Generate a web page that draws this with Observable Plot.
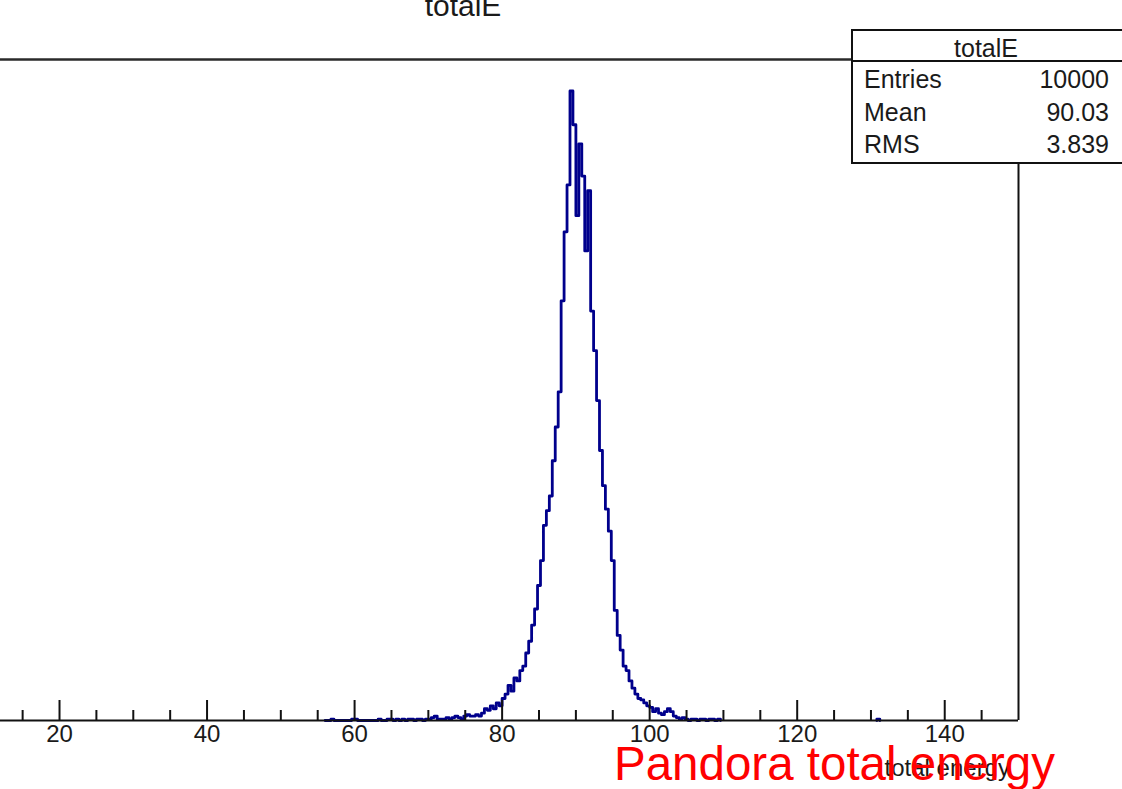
<!DOCTYPE html>
<html>
<head>
<meta charset="utf-8">
<script src="https://cdn.jsdelivr.net/npm/d3@7"></script>
<script src="https://cdn.jsdelivr.net/npm/@observablehq/plot@0.6"></script>
<style>
  html, body { margin: 0; padding: 0; background: white; overflow: hidden; }
  svg { display: block; }
</style>
</head>
<body>
<div id="chart"></div>
<script>
// ---- Data ----
const histTitle = "totalE";
const xAxisTitle = "total energy";
const annotation = "Pandora total energy";
const binStart = 56.0;
const binWidth = 0.4;
const counts = [
  0,0,1,0,0,0,0,0,0,1,
  1,0,0,0,0,0,0,0,1,0,
  0,1,1,0,1,0,1,0,1,1,
  0,1,1,0,1,1,2,3,1,1,
  1,2,1,2,3,2,1,3,4,3,
  3,4,3,5,8,7,10,8,12,10,
  15,18,24,20,29,27,34,37,46,54,
  65,76,92,109,133,143,153,177,200,224,
  286,333,365,429,406,344,393,371,320,361,
  279,252,218,184,160,144,129,109,75,58,
  48,37,34,27,22,18,15,14,12,10,
  9,6,8,5,4,6,8,6,3,2,
  1,2,1,0,1,1,0,1,1,0,
  1,1,0,1
];
const extraBinStarts = [130.8];
const extraCounts = [1];
const xDomain = [12, 150];
const majorTicks = [20, 40, 60, 80, 100, 120, 140];
const majorTickLabels = ["20", "40", "60", "80", "100", "120", "140"];
const minorTicks = [15, 25, 30, 35, 45, 50, 55, 65, 70, 75, 85, 90, 95, 105, 110, 115, 125, 130, 135, 145];
const statsLabels = ["Entries", "Mean", "RMS"];
const statsValues = ["10000", "90.03", "3.839"];

// ---- Build step outline ----
const pts = [];
function addHist(start, arr, series) {
  pts.push({s: series, x: start, y: 0});
  arr.forEach((c, i) => pts.push({s: series, x: +(start + i * binWidth).toFixed(3), y: c}));
  pts.push({s: series, x: +(start + arr.length * binWidth).toFixed(3), y: 0});
}
addHist(binStart, counts, "main");
extraBinStarts.forEach((b, k) => addHist(b, [extraCounts[k]], "extra" + k));

const yMax = d3.max(counts) * 1.05;
const FONT = "'Liberation Sans', Arial, Helvetica, sans-serif";

const chart = Plot.plot({
  width: 1122,
  height: 789,
  marginLeft: 0,
  marginRight: 104,
  marginTop: 59,
  marginBottom: 69,
  x: {domain: xDomain, axis: null},
  y: {domain: [0, yMax], axis: null},
  style: {background: "white", fontFamily: FONT, overflow: "visible"},
  marks: [
    Plot.line(pts, {x: "x", y: "y", z: "s", curve: "step-after", stroke: "#00008c", strokeWidth: 2.8}),
    Plot.ruleY([yMax], {stroke: "#2a2a2a", strokeWidth: 2.6}),
    Plot.ruleX([xDomain[1]], {stroke: "#111", strokeWidth: 2}),
    Plot.ruleY([0], {stroke: "#111", strokeWidth: 2}),
    Plot.ruleX(majorTicks, {x: d => d, y1: () => 0, y2: () => 0, insetTop: -20, stroke: "#111", strokeWidth: 2}),
    Plot.ruleX(minorTicks, {x: d => d, y1: () => 0, y2: () => 0, insetTop: -10, stroke: "#111", strokeWidth: 2}),
    Plot.text(majorTicks, {x: d => d, frameAnchor: "bottom", dy: 21, text: (d, i) => majorTickLabels[i], fontSize: 24, fill: "#1a1a1a"})
  ]
});

const svg = d3.select(chart);

function addText(parent, x, y, anchor, size, fill, txt) {
  return parent.append("text")
    .attr("x", x).attr("y", y)
    .attr("text-anchor", anchor)
    .style("text-anchor", anchor)
    .style("font-family", FONT).style("font-size", size + "px")
    .attr("fill", fill)
    .text(txt);
}

// Histogram title (top, partly cut off)
addText(svg, 463, 16, "middle", 30, "#1a1a1a", histTitle);

// Stats box
const box = svg.append("g");
box.append("rect")
  .attr("x", 852).attr("y", 30).attr("width", 300).attr("height", 133)
  .attr("fill", "white").attr("stroke", "#111").attr("stroke-width", 2);
box.append("line")
  .attr("x1", 852).attr("x2", 1122).attr("y1", 61).attr("y2", 61)
  .attr("stroke", "#111").attr("stroke-width", 2);
addText(box, 986, 57, "middle", 25, "#1a1a1a", histTitle);
const rowY = [88, 121, 153];
statsLabels.forEach((lab, i) => {
  addText(box, 864, rowY[i], "start", 25, "#1a1a1a", lab);
  addText(box, 1109, rowY[i], "end", 25, "#1a1a1a", statsValues[i]);
});

// Axis title
addText(svg, 1010, 776, "end", 24, "#1a1a1a", xAxisTitle);

// Red annotation
addText(svg, 614, 780, "start", 47.5, "#ff0000", annotation);

document.getElementById("chart").appendChild(chart);
</script>
</body>
</html>
